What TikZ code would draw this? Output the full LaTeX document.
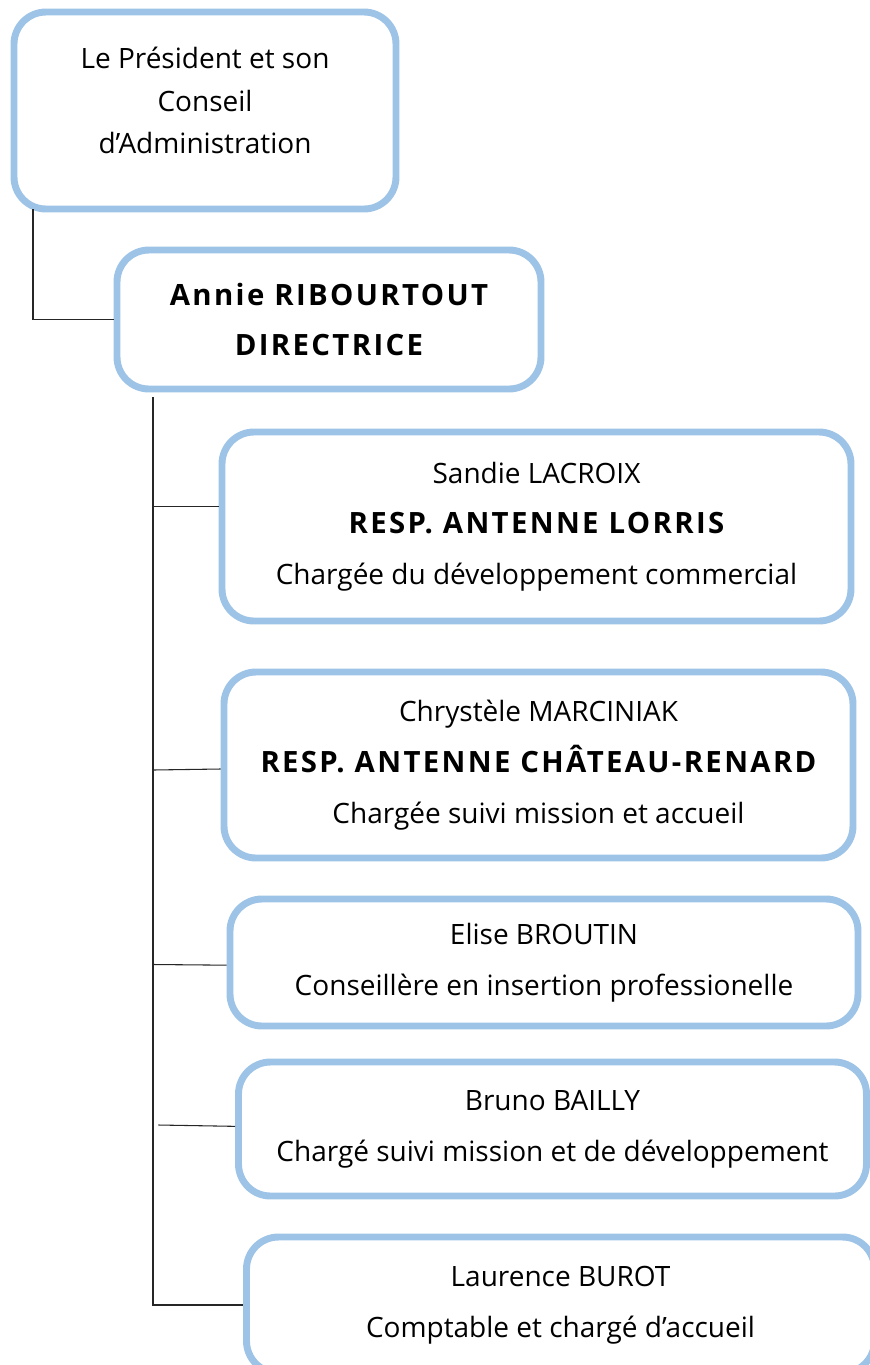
\documentclass[tikz,border=0pt]{standalone}
\usepackage{fontspec}
\setmainfont{Open Sans}
\usepackage{tikz}
\usetikzlibrary{positioning}
\definecolor{boxblue}{RGB}{157,195,230}
\tikzset{staff node/.style={rectangle, draw=boxblue, line width=5.2pt,
    rounded corners=24pt, align=center, fill=white,
    font=\fontsize{21}{38}\selectfont}}
\tikzset{link edge/.style={draw=black!85, line width=0.8pt}}
\newcommand{\rolebold}[1]{{\fontsize{22}{38}\selectfont\bfseries\addfontfeature{LetterSpace=8}#1}}

\begin{document}
\begin{tikzpicture}
  [x=0.75pt, y=-0.75pt]
  \useasboundingbox (0,0) rectangle (870,1365);

  \node [staff node, minimum width=286.5pt, minimum height=147.75pt, text depth=15pt,
         font=\fontsize{21}{32}\selectfont]   (pres)     at (205,110.5)  {Le Président et son\\Conseil\\d’Administration};
  \node [staff node, minimum width=318pt,   minimum height=104.25pt] (annie)    at (329,319.5)  {\rolebold{Annie RIBOURTOUT}\\\rolebold{DIRECTRICE}};
  \node [staff node, minimum width=471.75pt, minimum height=141.75pt] (sandie)  at (536.5,526.5) {Sandie LACROIX\\\rolebold{RESP. ANTENNE LORRIS}\\Chargée du développement commercial};
  \node [staff node, minimum width=471.75pt, minimum height=139.5pt] (chrystele) at (538.5,765) {Chrystèle MARCINIAK\\\rolebold{RESP. ANTENNE CHÂTEAU-RENARD}\\Chargée suivi mission et accueil};
  \node [staff node, minimum width=471pt,   minimum height=95.25pt] (elise)     at (544,962.5)  {Elise BROUTIN\\Conseillère en insertion professionelle};
  \node [staff node, minimum width=471pt,   minimum height=100.5pt] (bruno)     at (552.5,1129) {Bruno BAILLY\\Chargé suivi mission et de développement};
  \node [staff node, minimum width=471pt,   minimum height=102pt]   (laurence)  at (560.5,1305) {Laurence BUROT\\Comptable et chargé d’accueil};

  \coordinate (pres foot)  at (33,209);
  \coordinate (trunk top)  at (153,397);

  \draw [link edge]  (pres foot) |- (annie.west);
  \draw [link edge]  (trunk top) |- (laurence.west);
  \draw [link edge]  (trunk top |- sandie.west)    ++(0,-20) -- ([yshift=15pt]sandie.west);
  \draw [link edge]  (trunk top |- chrystele.west) ++(0,5)   -- ([yshift=-3pt]chrystele.west);
  \draw [link edge]  (trunk top |- elise.west)     ++(0,2)   -- ([yshift=-2pt]elise.west);
  \draw [link edge]  ([xshift=4pt]trunk top |- bruno.west) ++(0,-4) -- ([yshift=2pt]bruno.west);
\end{tikzpicture}
\end{document}
